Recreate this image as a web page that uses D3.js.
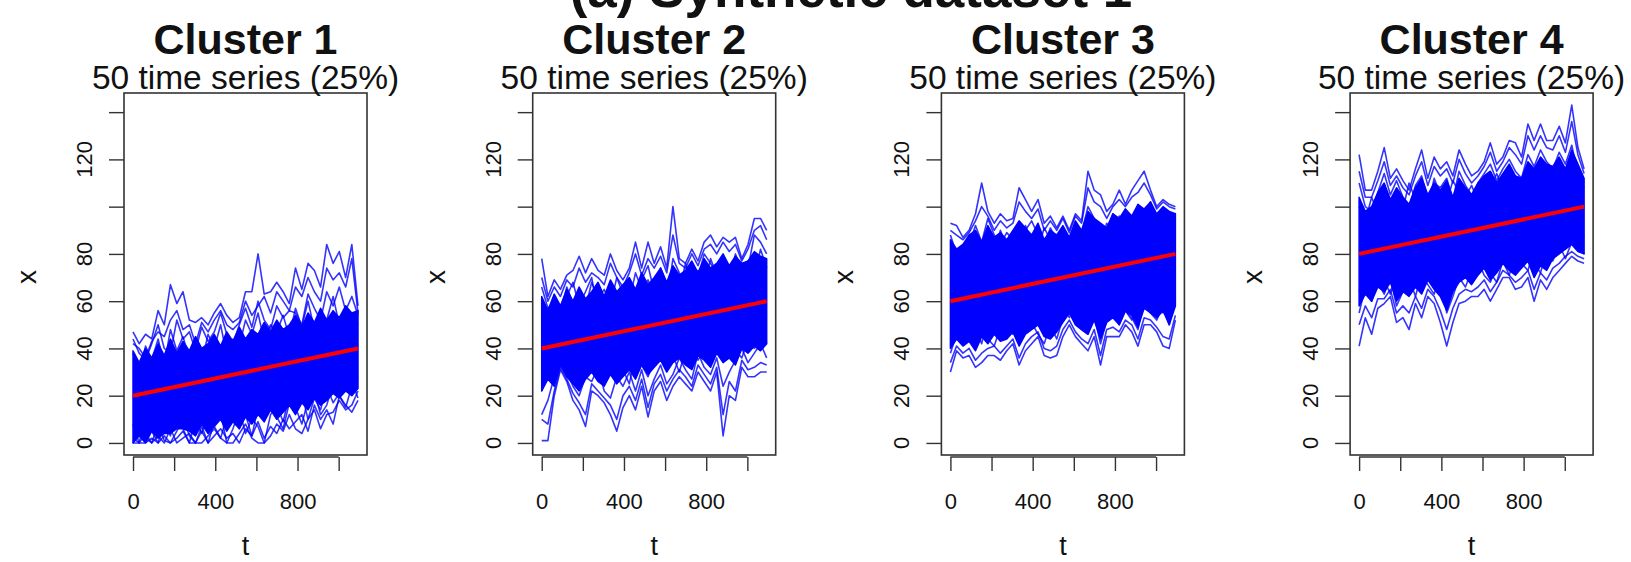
<!DOCTYPE html>
<html>
<head>
<meta charset="utf-8">
<script src="https://cdn.jsdelivr.net/npm/d3@7"></script>
<style>
  body { margin: 0; background: #fff; }
  svg text { font-family: "Liberation Sans", Arial, Helvetica, sans-serif; fill: #111; }
</style>
</head>
<body>
<div id="chart"></div>
<script>
// time grid (days), one point a month
const days = [0,30,61,91,122,152,182,213,243,274,304,334,365,395,426,456,486,517,547,578,608,638,669,699,730,760,790,821,851,882,912,942,973,1003,1034,1064,1094];

const clusterNames = ["Cluster 1", "Cluster 2", "Cluster 3", "Cluster 4"];
const clusterSizes = ["50 time series (25%)", "50 time series (25%)", "50 time series (25%)", "50 time series (25%)"];
const trendStart = [20, 40, 60, 80];
const trendEnd = [40, 60, 80, 100];

const xTicks = [0, 200, 400, 600, 800, 1000];
const xTickLabels = [0, 400, 800];
const yTicks = [0, 20, 40, 60, 80, 100, 120, 140];
const yTickLabels = [0, 20, 40, 60, 80, 120];

// cluster 1
const c1Upper = [47,42,46,44,56,50,67,59,64,52,51,53,50,55,59,54,51,53,64,64,80,63,64,68,64,59,74,65,76,73,66,84,76,81,70,84,58];
const c1Lower = [0,0,0,2,0,3,0,2,5,0,0,0,3,6,2,0,0,4,8,2,0,0,3,8,5,12,6,4,10,14,6,12,13,18,14,16,22];
const c1a = [38,30,41,35,44,33,48,39,45,36,42,34,46,40,50,37,44,41,52,46,55,43,50,47,54,45,57,49,60,48,55,52,62,50,58,54,50];
const c1b = [42,40,36,43,47,45,52,56,48,50,42,51,47,52,56,50,48,51,60,54,58,62,55,64,60,56,66,62,70,64,60,74,69,72,66,78,55];
const c1c = [44,38,35,42,50,40,38,52,44,47,39,49,43,47,55,46,42,50,57,49,60,52,48,58,53,56,55,50,63,57,52,64,58,66,56,62,54];
const c1d = [8,0,12,5,0,9,3,14,6,0,10,4,13,7,2,11,16,6,12,3,15,9,18,11,6,17,13,21,10,19,14,24,17,21,22,26,19];
const c1e = [0,6,2,0,8,1,0,5,11,3,0,7,0,9,13,0,6,14,4,10,7,0,12,16,9,20,15,8,18,22,12,16,25,20,15,24,28];
const c1f = [2,0,4,0,3,0,6,0,2,4,0,5,0,3,6,2,4,0,6,3,9,2,7,4,10,6,9,12,5,16,10,14,8,20,16,13,18];
const c1FillLow = [0,3,0,5,2,4,4,6,6,5,3,8,4,7,10,5,9,6,11,8,12,9,14,10,13,16,12,17,14,19,16,18,21,19,22,20,23];
const c1FillHigh = [39,34,40,36,42,37,44,38,43,39,45,40,42,46,41,47,43,49,44,48,46,51,47,52,48,50,54,49,55,51,57,52,56,53,58,55,56];

// cluster 2
const c2Upper = [78,62,69,65,71,73,79,72,78,73,71,80,73,69,74,85,74,85,76,83,74,100,78,76,82,77,85,88,83,87,85,87,78,84,95,95,90];
const c2Lower = [1,1,20,31,26,18,14,7,22,20,17,12,5,15,20,14,24,11,22,26,18,24,28,25,22,30,26,22,30,3,20,18,32,28,28,30,30];
const c2a = [58,52,62,55,66,59,64,57,68,61,65,58,70,63,60,72,65,69,62,74,67,71,64,76,69,73,66,78,71,75,68,80,73,77,70,82,74];
const c2b = [70,60,66,62,69,66,74,68,72,70,67,76,70,66,72,80,71,78,74,79,72,88,76,74,80,75,82,84,80,85,81,84,77,82,90,92,86];
const c2c = [66,57,60,52,62,68,58,64,70,55,62,67,60,66,64,58,69,75,64,70,60,78,72,67,74,70,80,76,71,78,73,76,76,74,88,85,80];
const c2d = [22,30,25,36,29,33,24,31,38,27,34,29,36,31,25,38,33,28,35,41,32,37,30,39,44,35,40,33,42,37,45,39,36,44,40,47,42];
const c2e = [12,18,28,34,30,24,20,28,26,32,22,19,28,24,30,22,31,20,27,33,25,29,36,31,27,38,32,29,36,24,30,35,40,34,38,42,36];
const c2f = [10,8,22,32,27,21,17,12,25,22,19,16,10,20,24,18,27,15,25,29,22,27,31,28,24,33,29,25,32,12,26,22,35,31,32,34,33];
const c2FillLow = [22,27,24,33,28,25,22,27,30,26,24,29,25,28,31,27,33,29,32,35,30,34,36,33,31,37,35,32,38,34,36,33,40,38,41,39,42];
const c2FillHigh = [62,56,63,58,65,60,66,61,64,68,62,69,64,67,70,65,72,67,70,74,68,75,71,73,77,72,78,74,76,80,75,79,76,77,81,79,78];

// cluster 3
const c3Upper = [93,92,87,90,97,110,98,93,97,94,95,108,103,98,103,93,96,91,96,90,97,94,115,107,105,98,101,107,101,107,111,115,107,100,103,101,100];
const c3Lower = [30,39,36,37,32,34,37,37,35,39,42,33,39,42,45,37,36,37,45,50,45,42,39,45,33,45,45,45,50,47,41,50,50,47,41,40,52];
const c3a = [80,74,84,77,88,81,86,79,90,83,87,80,92,85,82,91,86,84,89,82,91,87,94,88,85,93,89,96,90,87,95,92,98,91,96,93,90];
const c3b = [90,88,86,89,94,100,96,90,94,91,93,102,98,95,99,90,94,90,95,89,96,93,108,102,100,95,100,103,100,104,106,110,105,99,102,100,99];
const c3c = [88,80,78,84,92,85,95,88,84,89,86,93,90,94,88,84,91,86,90,84,93,89,100,95,91,88,97,93,99,94,100,96,102,94,98,95,92];
const c3d = [44,52,47,55,49,42,53,48,56,50,46,54,49,57,51,47,55,50,58,53,59,52,48,57,51,60,54,62,56,52,61,57,64,58,55,63,60];
const c3e = [38,46,42,48,40,50,44,41,49,45,52,43,47,51,46,42,50,44,53,57,51,48,46,54,42,52,58,50,56,53,48,60,55,52,58,50,62];
const c3f = [34,41,38,40,35,38,40,41,38,41,44,36,42,45,47,40,39,41,48,52,47,44,42,48,37,48,49,47,52,50,44,53,52,49,45,44,54];
const c3FillLow = [40,44,41,43,39,45,42,46,43,44,47,41,46,48,50,45,44,47,51,55,50,48,46,52,44,51,53,50,56,54,49,57,55,53,56,50,58];
const c3FillHigh = [86,82,84,88,90,85,92,87,89,86,90,94,91,88,93,86,90,88,92,87,94,90,98,95,93,91,97,95,99,96,101,99,102,97,100,98,97];

// cluster 4
const c4Upper = [122,107,107,115,125,112,116,111,107,116,124,112,121,116,119,113,124,118,113,115,119,127,118,121,128,127,121,135,128,135,128,128,134,127,143,125,116];
const c4Lower = [41,53,46,57,59,62,51,53,48,59,53,62,59,51,41,51,59,60,62,62,65,60,65,70,70,65,66,70,60,69,65,70,73,76,79,77,76];
const c4a = [100,94,104,97,108,101,106,99,110,103,107,100,112,105,102,111,106,104,109,102,111,107,114,108,105,113,109,116,110,107,115,112,118,111,116,113,110];
const c4b = [115,104,104,111,119,109,113,108,105,113,119,109,117,113,116,110,120,114,110,113,117,123,115,119,125,122,118,130,124,130,125,124,130,123,136,122,114];
const c4c = [110,100,98,106,114,105,111,104,100,109,113,104,110,108,112,103,115,109,105,110,114,118,111,116,120,115,112,122,117,124,119,116,123,118,126,114,108];
const c4d = [64,72,67,75,69,63,73,68,76,70,66,74,69,77,71,67,75,70,78,73,79,72,68,77,71,80,74,82,76,72,81,77,84,78,85,83,80];
const c4e = [55,66,60,68,63,70,58,64,70,62,72,67,63,71,55,62,70,66,73,77,71,68,75,78,74,80,76,73,82,78,74,80,84,82,86,84,88];
const c4f = [50,58,53,61,61,65,55,58,55,62,57,65,62,56,48,57,63,65,64,66,69,64,68,73,71,68,70,73,65,72,69,74,76,79,81,79,78];
const c4FillLow = [58,63,60,66,64,68,60,64,62,66,63,69,65,62,56,64,68,70,67,71,74,69,72,76,73,71,74,77,70,75,73,78,80,82,84,81,80];
const c4FillHigh = [104,98,100,106,110,103,108,104,101,108,112,105,110,107,111,104,112,108,105,110,113,115,110,114,118,113,112,119,116,121,118,117,121,116,124,118,112];

const clusters = [
  { series: [c1Upper, c1a, c1b, c1c, c1d, c1e, c1f, c1Lower], fillLow: c1FillLow, fillHigh: c1FillHigh },
  { series: [c2Upper, c2a, c2b, c2c, c2d, c2e, c2f, c2Lower], fillLow: c2FillLow, fillHigh: c2FillHigh },
  { series: [c3Upper, c3a, c3b, c3c, c3d, c3e, c3f, c3Lower], fillLow: c3FillLow, fillHigh: c3FillHigh },
  { series: [c4Upper, c4a, c4b, c4c, c4d, c4e, c4f, c4Lower], fillLow: c4FillLow, fillHigh: c4FillHigh },
];

const width = 1631;
const height = 562;
const svg = d3.select("#chart").append("svg").attr("width", width).attr("height", height);

const firstLeft = 124, panelStep = 408.7, panelWidth = 243;
const boxTop = 93, boxBottom = 455;

const y = d3.scaleLinear().domain([-5.1, 148.1]).range([boxBottom, boxTop]);

// overall title, cut off at the top edge
svg.append("text")
  .attr("x", 851).attr("y", 7)
  .attr("text-anchor", "middle")
  .attr("font-size", 53).attr("font-weight", "bold")
  .text("(a) Synthetic dataset 1");

clusters.forEach((c, i) => {
  const left = firstLeft + i * panelStep;
  const cx = left + panelWidth / 2;
  const x = d3.scaleLinear().domain([-43.8, 1137.8]).range([left, left + panelWidth]);
  const g = svg.append("g");

  g.append("clipPath").attr("id", "clip" + i)
    .append("rect")
    .attr("x", left).attr("y", boxTop)
    .attr("width", panelWidth).attr("height", boxBottom - boxTop);
  const plot = g.append("g").attr("clip-path", `url(#clip${i})`);

  // dense core where the 50 series overlap
  const band = d3.area()
    .x((d, j) => x(days[j]))
    .y0((d) => y(d[0]))
    .y1((d) => y(d[1]));
  plot.append("path")
    .datum(d3.zip(c.fillLow, c.fillHigh))
    .attr("d", band)
    .attr("fill", "#0000ff")
    .attr("stroke", "#0000ff")
    .attr("stroke-width", 1.5)
    .attr("stroke-linejoin", "round");

  const line = d3.line().x((d, j) => x(days[j])).y((d) => y(d));
  plot.selectAll(".series")
    .data(c.series)
    .join("path")
    .attr("class", "series")
    .attr("d", line)
    .attr("fill", "none")
    .attr("stroke", "#0000ff")
    .attr("stroke-width", 1.6)
    .attr("stroke-opacity", 0.8)
    .attr("stroke-linejoin", "round");

  // cluster mean
  plot.append("path")
    .datum([[days[0], trendStart[i]], [days[days.length - 1], trendEnd[i]]])
    .attr("d", d3.line().x((d) => x(d[0])).y((d) => y(d[1])))
    .attr("stroke", "#ff0000")
    .attr("stroke-width", 4)
    .attr("fill", "none");

  g.append("rect")
    .attr("x", left).attr("y", boxTop)
    .attr("width", panelWidth).attr("height", boxBottom - boxTop)
    .attr("fill", "none")
    .attr("stroke", "#333")
    .attr("stroke-width", 1.6);

  // x axis
  const xAxis = g.append("g")
    .attr("transform", `translate(0, ${boxBottom + 2})`)
    .call(d3.axisBottom(x).tickValues(xTicks).tickSize(14).tickPadding(22)
      .tickFormat((d) => (xTickLabels.includes(d) ? d : "")));
  xAxis.select(".domain").remove();
  xAxis.append("line")
    .attr("x1", x(xTicks[0])).attr("x2", x(xTicks[xTicks.length - 1]))
    .attr("stroke", "#333").attr("stroke-width", 1.4);
  xAxis.selectAll(".tick line").attr("stroke", "#333").attr("stroke-width", 1.4);
  xAxis.selectAll("text")
    .attr("font-size", 22)
    .attr("font-family", "Liberation Sans, Arial, sans-serif")
    .attr("fill", "#222");

  // y axis
  const yAxis = g.append("g")
    .attr("transform", `translate(${left}, 0)`)
    .call(d3.axisLeft(y).tickValues(yTicks).tickSize(15).tickFormat(""));
  yAxis.select(".domain").remove();
  yAxis.selectAll(".tick line").attr("stroke", "#333").attr("stroke-width", 1.4);
  g.selectAll(".ylab")
    .data(yTickLabels)
    .join("text")
    .attr("class", "ylab")
    .attr("transform", (d) => `translate(${left - 32}, ${y(d)}) rotate(-90)`)
    .attr("text-anchor", "middle")
    .attr("font-size", 22)
    .attr("fill", "#222")
    .text((d) => d);

  // axis titles
  g.append("text")
    .attr("transform", `translate(${left - 88}, ${(boxTop + boxBottom) / 2 + 3}) rotate(-90)`)
    .attr("text-anchor", "middle")
    .attr("font-size", 28)
    .text("x");
  g.append("text")
    .attr("x", cx).attr("y", 555)
    .attr("text-anchor", "middle")
    .attr("font-size", 27)
    .text("t");

  // panel titles
  g.append("text")
    .attr("x", cx).attr("y", 54)
    .attr("text-anchor", "middle")
    .attr("font-size", 43).attr("font-weight", "bold")
    .text(clusterNames[i]);
  g.append("text")
    .attr("x", cx).attr("y", 89)
    .attr("text-anchor", "middle")
    .attr("font-size", 33.5)
    .text(clusterSizes[i]);
});
</script>
</body>
</html>
